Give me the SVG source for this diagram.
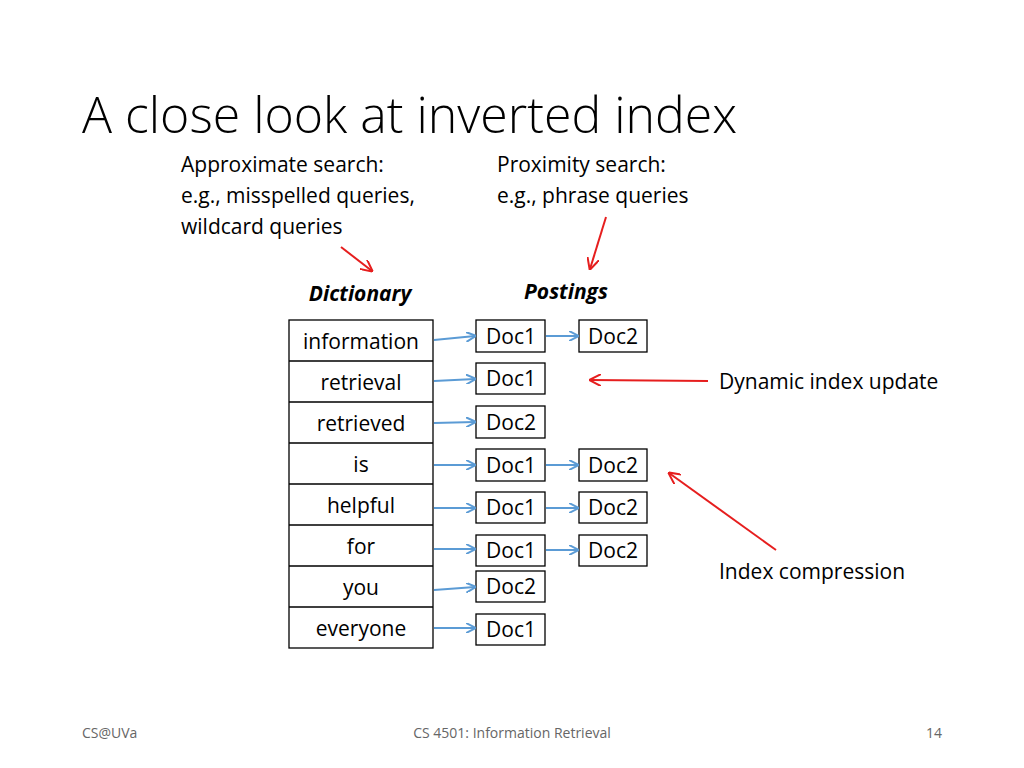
<svg xmlns="http://www.w3.org/2000/svg" width="1024" height="768" viewBox="0 0 1024 768">
<style>
text{font-family:"Open Sans","Noto Sans",sans-serif;fill:#000}
.t{font-size:21px}
.c{text-anchor:middle}
.box{fill:#fff;stroke:#000;stroke-width:1.3}
.b{stroke:#5B9BD5;stroke-width:2;fill:none;marker-end:url(#ab)}
.r{stroke:#E61E1E;stroke-width:2;fill:none;marker-end:url(#ar)}
.f{font-size:14px;fill:#666}
</style>
<defs>
<marker id="ab" markerWidth="10" markerHeight="10" refX="9" refY="5" orient="auto" markerUnits="userSpaceOnUse"><path d="M0,0 L10,5 L0,10" fill="none" stroke="#5B9BD5" stroke-width="2"/></marker>
<marker id="ar" markerWidth="12" markerHeight="12" refX="11" refY="6" orient="auto" markerUnits="userSpaceOnUse"><path d="M0,0 L12,6 L0,12" fill="none" stroke="#E61E1E" stroke-width="2"/></marker>
</defs>
<rect width="1024" height="768" fill="#fff"/>
<text x="82" y="133" style="font-size:50px;font-weight:300">A close look at inverted index</text>
<g id="notes" class="t">
<text x="181" y="172" class="t">Approximate search:</text>
<text x="181" y="203" class="t">e.g., misspelled queries,</text>
<text x="181" y="234" class="t">wildcard queries</text>
<text x="497" y="172" class="t">Proximity search:</text>
<text x="497" y="203" class="t">e.g., phrase queries</text>
<text x="719" y="389" class="t">Dynamic index update</text>
<text x="719" y="579" class="t">Index compression</text>
<text x="360" y="301" class="t c" font-weight="bold" font-style="italic">Dictionary</text>
<text x="566" y="299" class="t c" font-weight="bold" font-style="italic">Postings</text>
</g>
<g id="dictionary">
<rect class="box" x="289" y="320" width="144" height="328"/>
<path d="M289 361H433M289 402H433M289 443H433M289 484H433M289 525H433M289 566H433M289 607H433" stroke="#000" stroke-width="1.3"/>
<text x="361" y="349" class="t c">information</text>
<text x="361" y="390" class="t c">retrieval</text>
<text x="361" y="431" class="t c">retrieved</text>
<text x="361" y="472" class="t c">is</text>
<text x="361" y="513" class="t c">helpful</text>
<text x="361" y="554" class="t c">for</text>
<text x="361" y="595" class="t c">you</text>
<text x="361" y="636" class="t c">everyone</text>
</g>
<g id="postings">
<rect class="box" x="476" y="320" width="69" height="32"/><text x="511" y="344" class="t c">Doc1</text>
<rect class="box" x="579" y="320" width="68" height="32"/><text x="613" y="344" class="t c">Doc2</text>
<rect class="box" x="476" y="363" width="69" height="31"/><text x="511" y="386" class="t c">Doc1</text>
<rect class="box" x="476" y="406" width="69" height="32"/><text x="511" y="430" class="t c">Doc2</text>
<rect class="box" x="476" y="449" width="69" height="32"/><text x="511" y="473" class="t c">Doc1</text>
<rect class="box" x="579" y="449" width="68" height="32"/><text x="613" y="473" class="t c">Doc2</text>
<rect class="box" x="476" y="492" width="69" height="31"/><text x="511" y="515" class="t c">Doc1</text>
<rect class="box" x="579" y="492" width="68" height="31"/><text x="613" y="515" class="t c">Doc2</text>
<rect class="box" x="476" y="535" width="69" height="31"/><text x="511" y="558" class="t c">Doc1</text>
<rect class="box" x="579" y="535" width="68" height="31"/><text x="613" y="558" class="t c">Doc2</text>
<rect class="box" x="476" y="571" width="69" height="31"/><text x="511" y="594" class="t c">Doc2</text>
<rect class="box" x="476" y="614" width="69" height="31"/><text x="511" y="637" class="t c">Doc1</text>
</g>
<g id="connectors">
<path class="b" d="M434 340L475 336"/>
<path class="b" d="M434 381L475 379"/>
<path class="b" d="M434 423L475 422"/>
<path class="b" d="M434 465L475 465"/>
<path class="b" d="M434 508L475 508"/>
<path class="b" d="M434 549L475 549"/>
<path class="b" d="M434 590L475 587"/>
<path class="b" d="M434 628L475 628"/>
<path class="b" d="M546 336L578 336"/>
<path class="b" d="M546 465L578 465"/>
<path class="b" d="M546 508L578 508"/>
<path class="b" d="M546 550L578 550"/>
<path class="r" d="M341 247L372 271"/>
<path class="r" d="M606 217L590 269"/>
<path class="r" d="M708 381L590 380"/>
<path class="r" d="M776 550L669 473"/>
</g>
<g id="footer">
<text x="82" y="738" class="f">CS@UVa</text>
<text x="512" y="738" class="f c">CS 4501: Information Retrieval</text>
<text x="942" y="738" class="f" text-anchor="end">14</text>
</g>
</svg>
